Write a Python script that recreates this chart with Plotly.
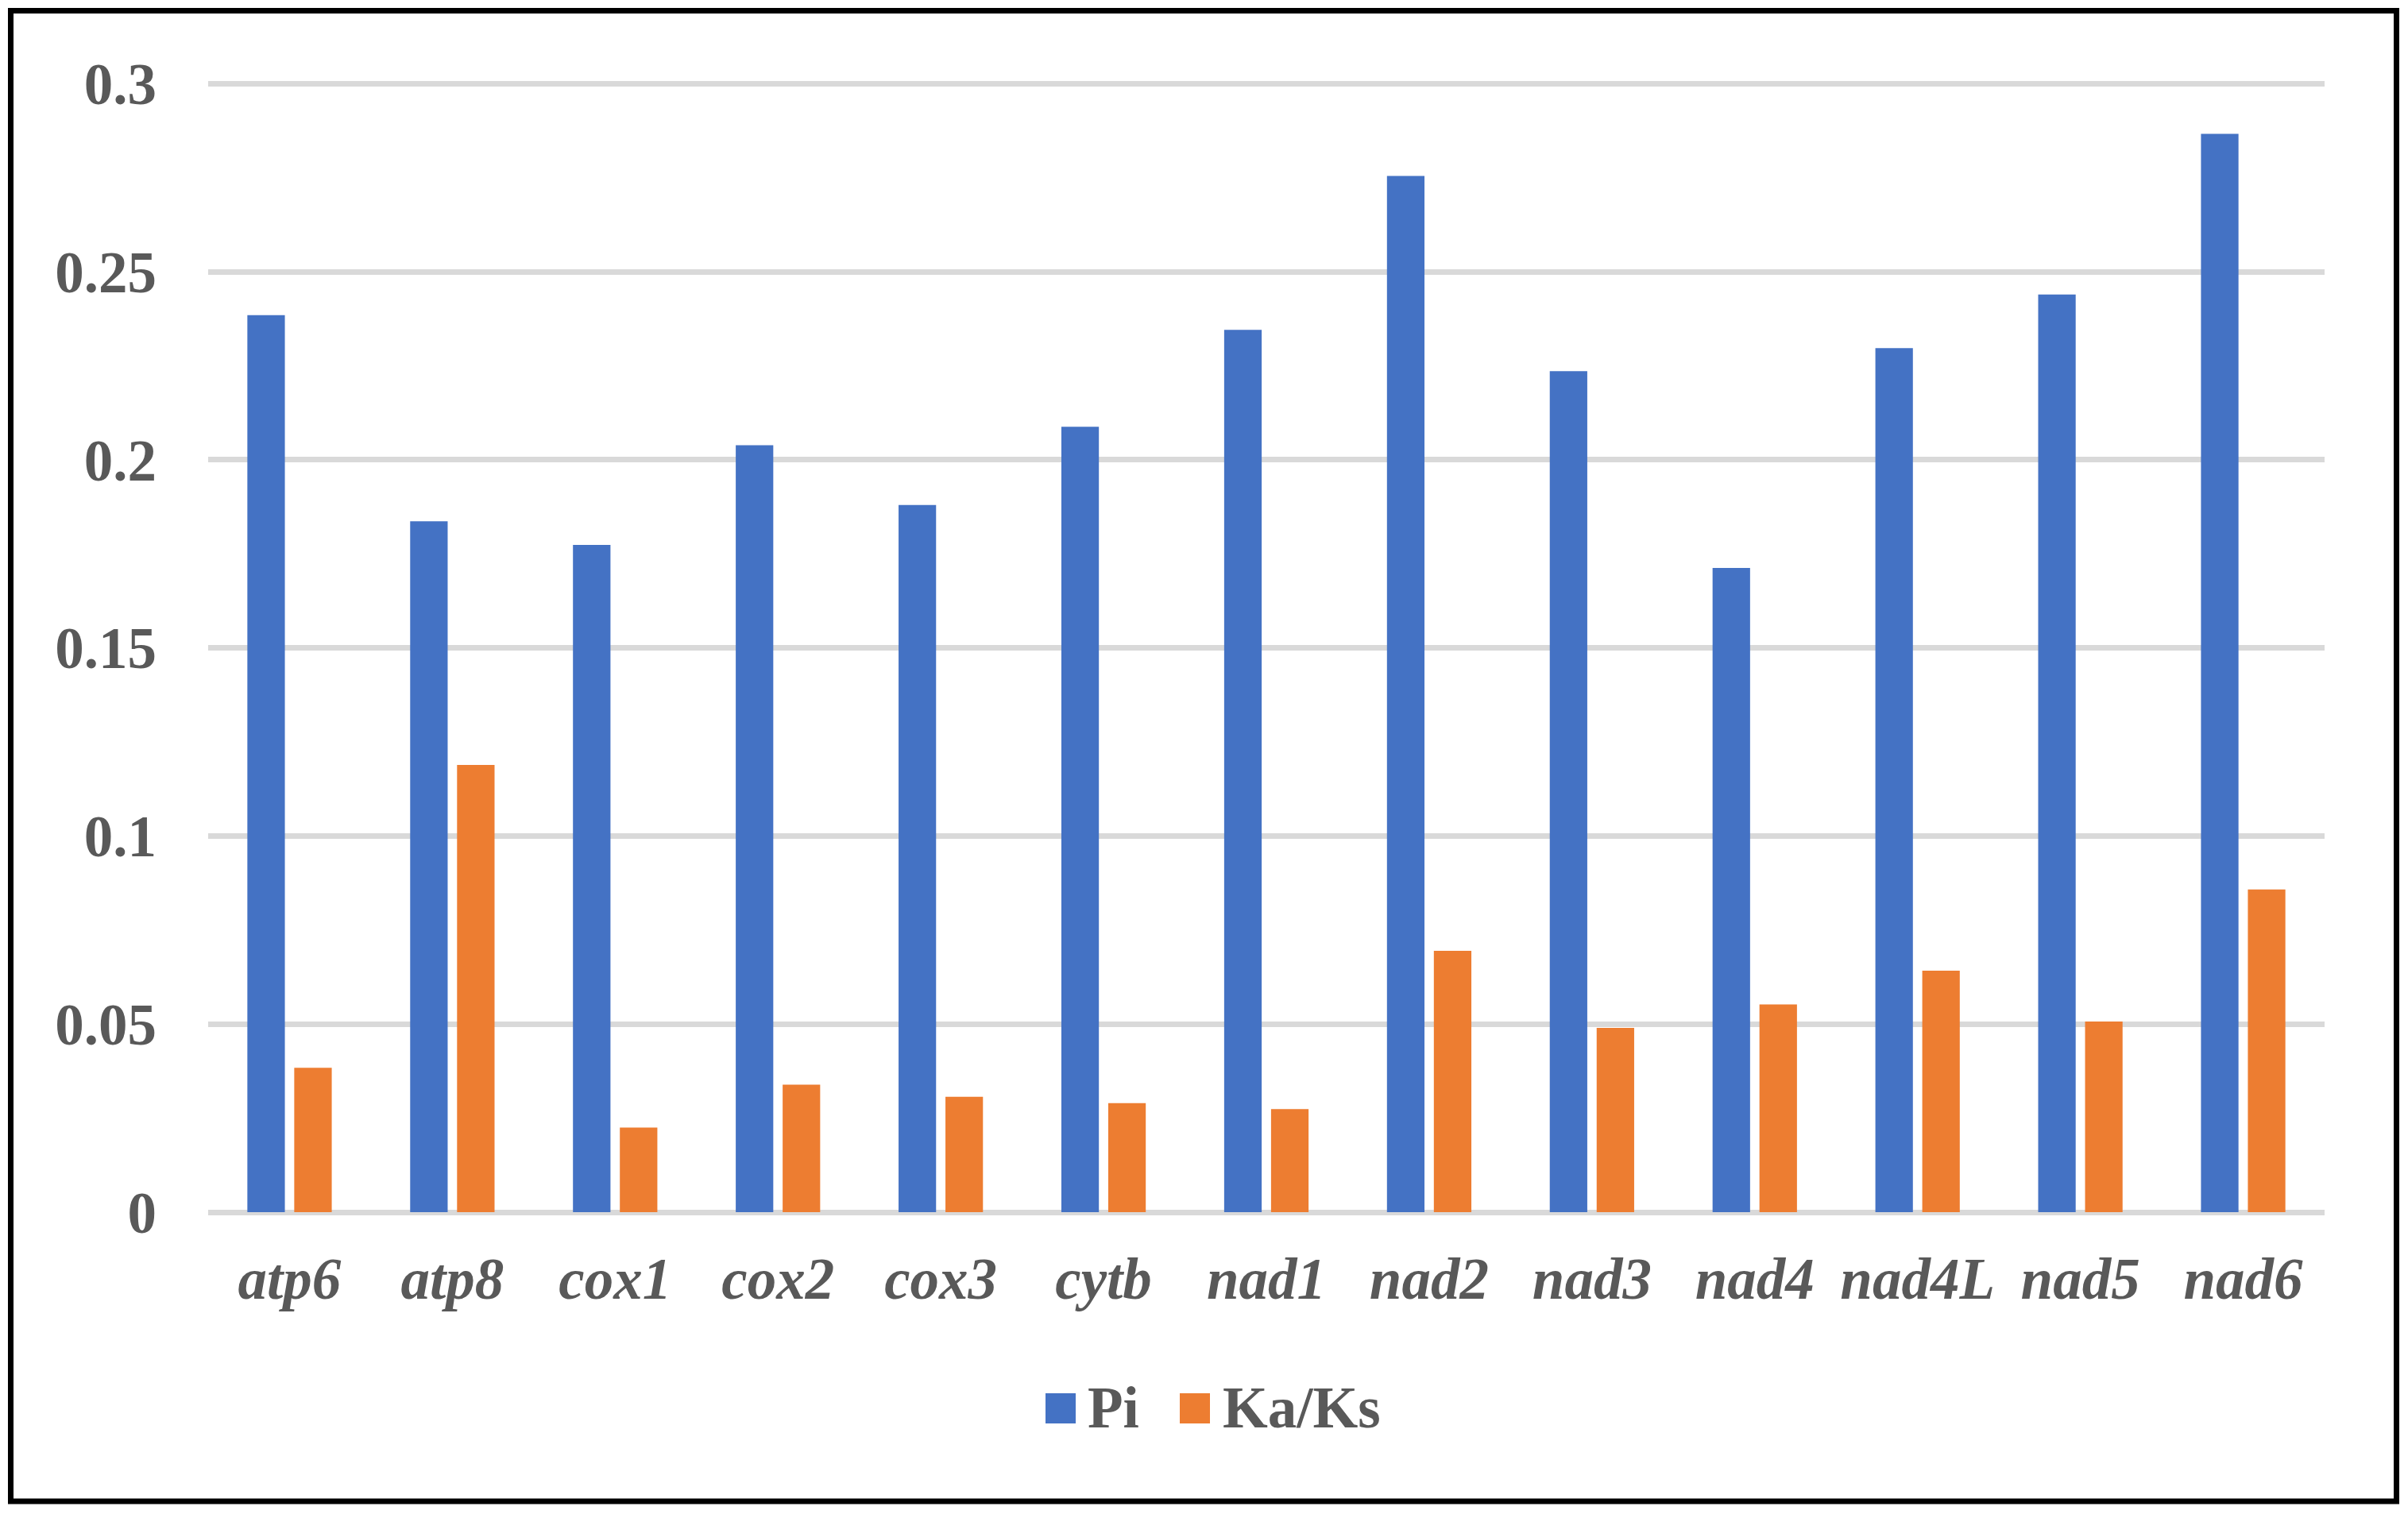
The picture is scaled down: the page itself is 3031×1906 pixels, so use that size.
import plotly.graph_objects as go

genes = ["atp6", "atp8", "cox1", "cox2", "cox3", "cytb", "nad1", "nad2",
         "nad3", "nad4", "nad4L", "nad5", "nad6"]
pi_values = [0.2385, 0.1837, 0.1774, 0.2039, 0.1880, 0.2088, 0.2346, 0.2755,
             0.2236, 0.1713, 0.2297, 0.2440, 0.2867]
kaks_values = [0.0384, 0.1189, 0.0225, 0.0339, 0.0307, 0.0290, 0.0274, 0.0695,
               0.0490, 0.0552, 0.0642, 0.0507, 0.0858]
series_names = ["Pi", "Ka/Ks"]
series_colors = ["#4472C4", "#ED7D31"]
y_ticks = [0, 0.05, 0.1, 0.15, 0.2, 0.25, 0.3]
y_tick_text = ["0", "0.05", "0.1", "0.15", "0.2", "0.25", "0.3"]

FONT = "Liberation Serif"
TXT = "#595959"
FS = 73
W, H = 3031, 1906
L, R, T, B = 262, 105, 96, 380
YMAX = 0.302

fig = go.Figure()
for name, vals, col in zip(series_names, [pi_values, kaks_values], series_colors):
    fig.add_trace(go.Bar(name=name, x=genes, y=vals, marker_color=col,
                         marker_line_width=0, showlegend=False))

pw, ph = W - L - R, H - T - B
def px_x(p):
    return (p - L) / pw
def px_y(p):
    return (H - B - p) / ph

# outer frame
fig.add_shape(type="rect", xref="paper", yref="paper",
              x0=px_x(13.5), x1=px_x(3016.5), y0=px_y(1890), y1=px_y(13.5),
              line=dict(color="black", width=7), fillcolor="rgba(0,0,0,0)",
              layer="above")

# legend (drawn to match the large square keys)
legend_items = [(series_names[0], series_colors[0], 1316, 1370),
                (series_names[1], series_colors[1], 1485, 1540)]
for name, col, sq_x, tx_x in legend_items:
    fig.add_shape(type="rect", xref="paper", yref="paper",
                  x0=px_x(sq_x), x1=px_x(sq_x + 38),
                  y0=px_y(1792), y1=px_y(1754),
                  line=dict(width=0), fillcolor=col)
    fig.add_annotation(xref="paper", yref="paper", x=px_x(tx_x - 3), y=px_y(1772),
                       xanchor="left", yanchor="middle", showarrow=False,
                       text="<b>%s</b>" % name,
                       font=dict(family=FONT, size=FS, color=TXT))

fig.update_layout(
    width=W, height=H,
    margin=dict(l=L, r=R, t=T, b=B),
    paper_bgcolor="white", plot_bgcolor="white",
    barmode="group", bargap=0.424, bargroupgap=0.2,
    font=dict(family=FONT, color=TXT, size=FS),
    showlegend=False,
)
fig.update_xaxes(
    showgrid=False, showline=False, zeroline=False, automargin=False,
    tickfont=dict(family=FONT, size=FS, color=TXT, weight="bold", style="italic"),
    ticks="", ticklabelstandoff=35,
)
fig.update_yaxes(
    range=[0, YMAX], tickvals=y_ticks, ticktext=y_tick_text,
    showgrid=True, gridcolor="#D9D9D9", gridwidth=7,
    zeroline=True, zerolinecolor="#D9D9D9", zerolinewidth=7,
    showline=False, ticks="", ticklabelstandoff=64, automargin=False,
    tickfont=dict(family=FONT, size=FS, color=TXT, weight="bold"),
)

fig.write_html("out.html", config={"displayModeBar": False},
               post_script="document.body.style.margin='0';document.body.style.overflow='hidden';")
